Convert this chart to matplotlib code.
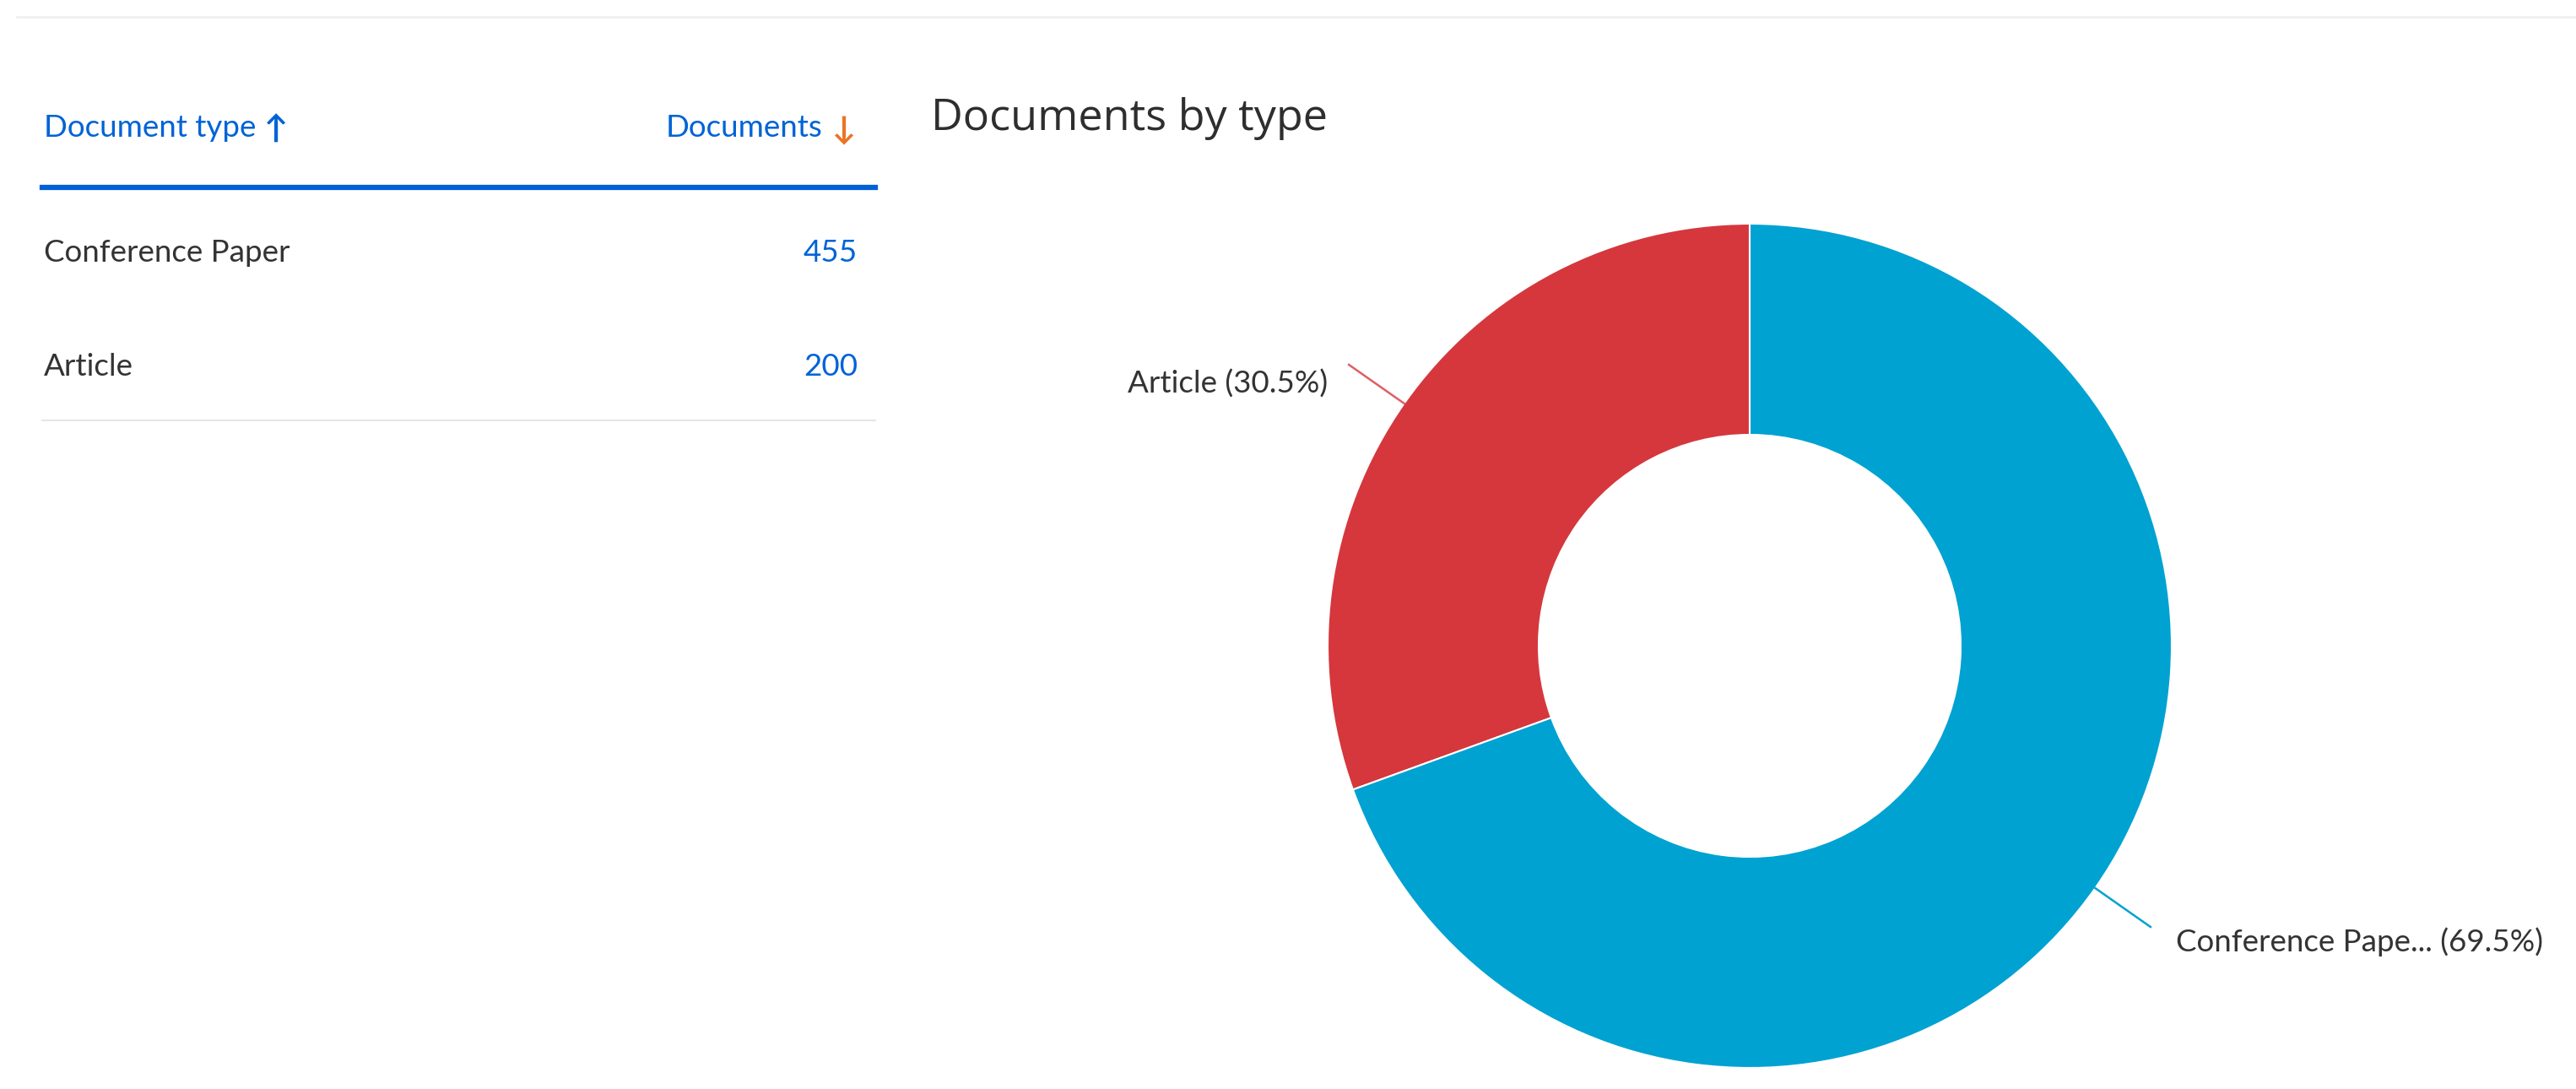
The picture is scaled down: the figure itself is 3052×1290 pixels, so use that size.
import numpy as np
import matplotlib.pyplot as plt

# data
doc_types = ["Conference Paper", "Article"]
doc_counts = [455, 200]
pie_labels = ["Conference Pape...", "Article"]

W, H = 3052, 1290
FONT = ["Lato", "DejaVu Sans"]
BLUE = "#0063d6"
TEXT = "#333333"

fig = plt.figure(figsize=(W / 100, H / 100), dpi=100)
fig.patch.set_facecolor("white")


def fx(px):
    return px / W


def fy(py):
    return 1 - py / H


# faint top rule
fig.add_artist(plt.Line2D([fx(20), 1], [fy(20), fy(20)], color="#f1f1f1", lw=2))

# ---- table on the left ----
fig.text(fx(52), fy(152), "Document type", color=BLUE, fontsize=26.5, family=FONT, va="center")
fig.text(fx(327), fy(154), "↑", color=BLUE, fontsize=27, family=FONT, va="center",
         ha="center", fontweight="bold")
fig.text(fx(974), fy(152), "Documents", color=BLUE, fontsize=26.5, family=FONT, va="center", ha="right")
fig.text(fx(1000), fy(155), "↓", color="#ec7324", fontsize=27, family=FONT, va="center",
         ha="center", fontweight="bold")
fig.add_artist(plt.Line2D([fx(50), fx(1037)], [fy(222), fy(222)], color="#0060d8", lw=4.5))

row_y = [300, 434]
for name, n, y in zip(doc_types, doc_counts, row_y):
    fig.text(fx(52), fy(y), name, color=TEXT, fontsize=26.5, family=FONT, va="center")
    fig.text(fx(1016), fy(y), str(n), color=BLUE, fontsize=26.5, family=FONT, va="center", ha="right")
fig.add_artist(plt.Line2D([fx(50), fx(1037)], [fy(498), fy(498)], color="#e6e6e6", lw=1.5))

# ---- donut on the right ----
fig.text(fx(1103), fy(140), "Documents by type", color="#2e2e2e", fontsize=37.5,
         family=["Open Sans", "DejaVu Sans"], va="center")

cx, cy, r = 2073, 765, 500
ax = fig.add_axes([fx(cx - r), fy(cy + r), 2 * r / W, 2 * r / H])
vals = doc_counts[::-1]
labs = pie_labels[::-1]
colors = ["#d5373d", "#00a2d2"]
wedges, _ = ax.pie(vals, colors=colors, startangle=90, counterclock=True, radius=1,
                   wedgeprops=dict(width=0.5, edgecolor="white", linewidth=1.5))
ax.set_xlim(-1, 1)
ax.set_ylim(-1, 1)
ax.set_aspect("equal")
ax.axis("off")

total = sum(vals)
for w, v, lab, col in zip(wedges, vals, labs, colors):
    mid = np.deg2rad((w.theta1 + w.theta2) / 2)
    x0, y0 = np.cos(mid), np.sin(mid)
    x1, y1 = 1.16 * x0, 1.16 * y0
    ax.plot([x0, x1], [y0, y1], color=col, lw=1.8, clip_on=False,
            alpha=0.8 if col == colors[0] else 1)
    txt = f"{lab} ({100 * v / total:.1f}%)"
    if x0 < 0:
        ax.text(x1 - 0.05, y1 - 0.045, txt, ha="right", va="center", fontsize=26.5,
                color=TEXT, family=FONT)
    else:
        ax.text(x1 + 0.06, y1 - 0.035, txt, ha="left", va="center", fontsize=26.5,
                color=TEXT, family=FONT)

fig.savefig("out.png", dpi=100, facecolor="white")
